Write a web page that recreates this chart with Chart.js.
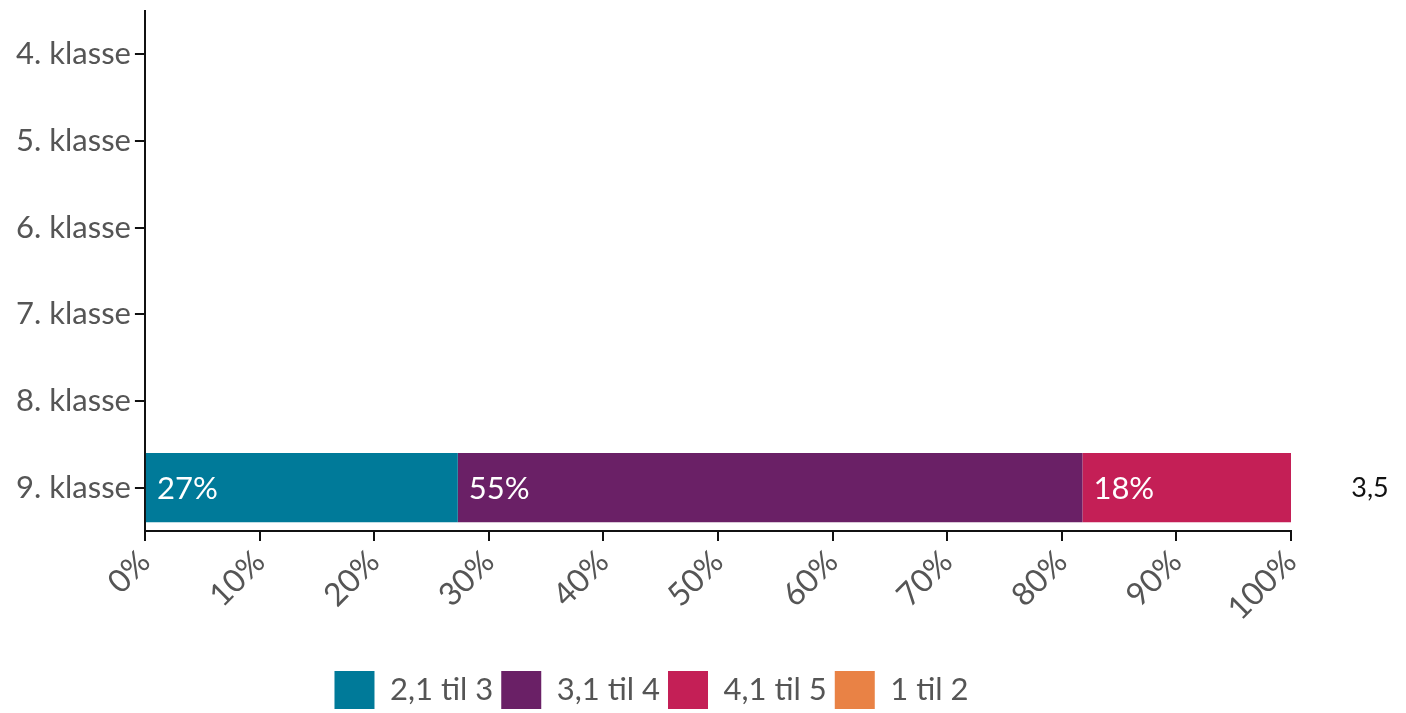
<!DOCTYPE html>
<html>
<head>
<meta charset="utf-8">
<script src="https://cdn.jsdelivr.net/npm/chart.js@4"></script>
<style>
  html, body { margin: 0; padding: 0; background: #fff; }
  #wrap { width: 1406px; height: 713px; }
</style>
</head>
<body>
<div id="wrap"><canvas id="myChart"></canvas></div>
<script>
var categories = ["4. klasse", "5. klasse", "6. klasse", "7. klasse", "8. klasse", "9. klasse"];
var seriesNames = ["2,1 til 3", "3,1 til 4", "4,1 til 5", "1 til 2"];
var vals21til3 = [null, null, null, null, null, 27.3];
var vals31til4 = [null, null, null, null, null, 54.5];
var vals41til5 = [null, null, null, null, null, 18.2];
var vals1til2 = [null, null, null, null, null, 0];
var averages = [null, null, null, null, null, "3,5"];
var colors = ["#007a99", "#6a2066", "#c41f56", "#e98245"];

Chart.defaults.font.family = "Lato";
Chart.defaults.color = "#555";

// percentage labels inside the bars + average to the right
var barLabels = {
  id: "barLabels",
  afterDatasetsDraw: function (chart) {
    var ctx = chart.ctx;
    ctx.save();
    ctx.font = "31px Lato";
    ctx.fillStyle = "#fff";
    ctx.textBaseline = "middle";
    ctx.textAlign = "left";
    chart.data.datasets.forEach(function (ds, i) {
      chart.getDatasetMeta(i).data.forEach(function (bar, j) {
        var v = ds.data[j];
        if (!v) return;
        var left = Math.min(bar.x, bar.base);
        ctx.fillText(Math.round(v) + "%", left + 11, bar.y + 1);
      });
    });
    ctx.fillStyle = "#111";
    ctx.font = "27px Lato";
    ctx.textAlign = "center";
    var yScale = chart.scales.y;
    averages.forEach(function (a, j) {
      if (a == null) return;
      ctx.fillText(a, 1370, yScale.getPixelForValue(j) + 1);
    });
    ctx.restore();
  }
};

var ctx = document.getElementById("myChart").getContext("2d");
var myChart = new Chart(ctx, {
  type: "bar",
  data: {
    labels: categories,
    datasets: [
      { label: seriesNames[0], data: vals21til3, backgroundColor: colors[0] },
      { label: seriesNames[1], data: vals31til4, backgroundColor: colors[1] },
      { label: seriesNames[2], data: vals41til5, backgroundColor: colors[2] },
      { label: seriesNames[3], data: vals1til2, backgroundColor: colors[3] },
    ],
  },
  options: {
    indexAxis: "y",
    responsive: true,
    maintainAspectRatio: false,
    animation: false,
    layout: { padding: { top: 11, right: 115, bottom: -6, left: 12 } },
    datasets: { bar: { categoryPercentage: 0.8, barPercentage: 1 } },
    scales: {
      x: {
        stacked: true,
        min: 0,
        max: 100,
        border: { color: "#111", width: 2 },
        grid: { drawOnChartArea: false, color: "#111", lineWidth: 2, tickLength: 10 },
        ticks: {
          stepSize: 10,
          maxRotation: 45,
          minRotation: 45,
          padding: 2,
          font: { size: 32 },
          callback: function (v) { return v + "%"; },
        },
        afterFit: function (scale) { scale.height = 132; },
      },
      y: {
        stacked: true,
        border: { color: "#111", width: 2 },
        grid: { drawOnChartArea: false, offset: false, color: "#111", lineWidth: 2, tickLength: 10 },
        ticks: { padding: 4, font: { size: 31 } },
        afterFit: function (scale) { scale.paddingTop = 0; scale.paddingBottom = 0; },
      },
    },
    plugins: {
      legend: {
        position: "bottom",
        labels: { boxWidth: 40, boxHeight: 38, padding: 8, font: { size: 31 } },
      },
      tooltip: { enabled: false },
    },
  },
  plugins: [barLabels],
});
</script>
</body>
</html>
